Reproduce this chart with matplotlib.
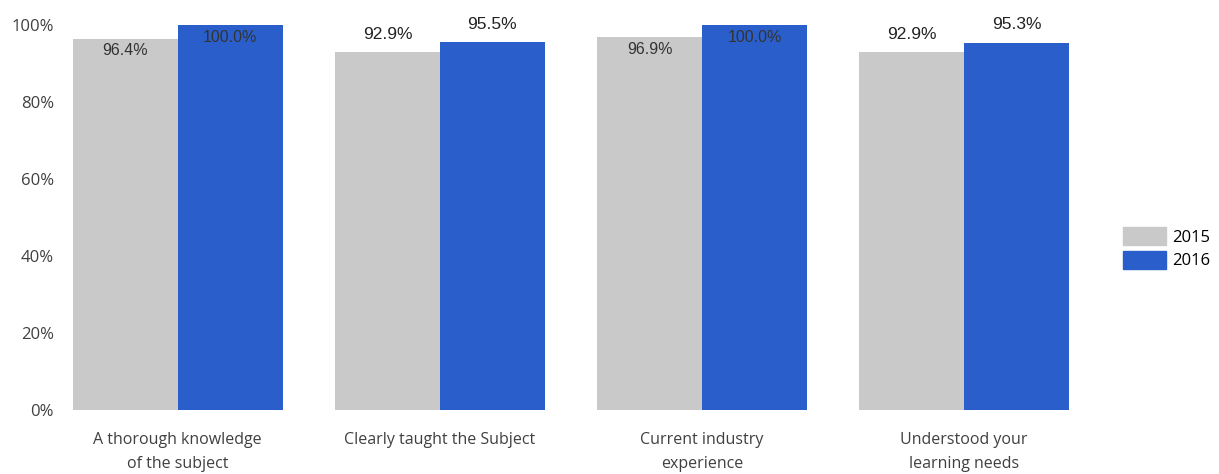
import numpy as np
import matplotlib.pyplot as plt
from matplotlib.patches import Patch

categories = ["A thorough knowledge\nof the subject", "Clearly taught the Subject",
              "Current industry\nexperience", "Understood your\nlearning needs"]
vals_2015 = [96.4, 92.9, 96.9, 92.9]
vals_2016 = [100.0, 95.5, 100.0, 95.3]
years = ["2015", "2016"]

GREY = "#c9c9c9"
BLUE = "#2a5fcb"

fig = plt.figure(figsize=(12.19, 4.74), dpi=100)
ax = fig.add_axes([65 / 1219, 1 - 410 / 474, (1090 - 65) / 1219, (410 - 25) / 474])

x = np.arange(len(categories))
w = 0.4
b1 = ax.bar(x - w / 2, vals_2015, w, color=GREY)
b2 = ax.bar(x + w / 2, vals_2016, w, color=BLUE)

# values near the top sit inside the bar, the rest just above it
for bars, vals in ((b1, vals_2015), (b2, vals_2016)):
    for r, v in zip(bars, vals):
        cx = r.get_x() + r.get_width() / 2
        if v >= 96:
            ax.text(cx, v - 1.2, f"{v:.1f}%", ha="center", va="top",
                    fontsize=11.5, color="#333333", family="Liberation Sans")
        else:
            ax.text(cx, v + 2.8, f"{v:.1f}%", ha="center", va="bottom",
                    fontsize=12.5, color="#222222", family="Liberation Sans")

ax.set_xlim(-0.43, 3.48)
ax.set_ylim(0, 100)
ax.set_yticks(range(0, 101, 20))
ax.set_yticklabels([f"{t}%" for t in range(0, 101, 20)], fontsize=12,
                   color="#404040", family="Open Sans")
ax.set_xticks(x)
ax.set_xticklabels(categories, fontsize=11.5, color="#404040", family="Open Sans",
                   linespacing=1.65)
ax.tick_params(length=0, axis="y", pad=8)
ax.tick_params(length=0, axis="x", pad=16)
for s in ax.spines.values():
    s.set_visible(False)

handles = [Patch(color=GREY), Patch(color=BLUE)]
fig.legend(handles, years, loc="center left", bbox_to_anchor=(1108 / 1219, 1 - 248 / 474),
           frameon=False, handlelength=2.6, handleheight=1.3,
           handletextpad=0.35, labelspacing=0.3,
           prop={"family": "Open Sans", "size": 12})

fig.savefig("out.png", dpi=100)
